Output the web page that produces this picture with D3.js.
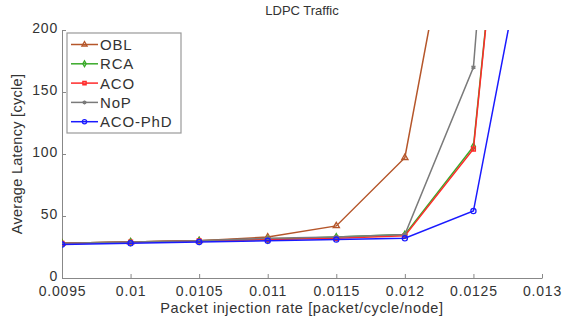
<!DOCTYPE html>
<html>
<head>
<meta charset="utf-8">
<script src="https://d3js.org/d3.v7.min.js"></script>
<style>
  body { margin: 0; background: #fff; }
  text { font-family: "Liberation Sans", Arial, sans-serif; fill: #333; }
</style>
</head>
<body>
<div id="chart"></div>
<script>
// datos
const rates = [0.0095, 0.01, 0.0105, 0.011, 0.0115, 0.012, 0.0125, 0.013];
const obl    = [28, 29, 30, 33, 42, 97, 393, 800];
const rca    = [28, 29, 30, 31, 33, 35, 106, 650];
const aco    = [28, 29, 30, 31, 32, 34, 104, 650];
const nop    = [28, 29, 30, 32, 33, 35, 170, 860];
const acoPhd = [27, 28, 29, 30, 31, 32, 54, 342];
const xTicks = [0.0095, 0.01, 0.0105, 0.011, 0.0115, 0.012, 0.0125, 0.013];
const yTicks = [0, 50, 100, 150, 200];

const series = [
  { name: "OBL", values: obl, color: "#b5562a", marker: "tri" },
  { name: "RCA", values: rca, color: "#3aaa2a", marker: "diamond" },
  { name: "ACO", values: aco, color: "#ff2a2a", marker: "square" },
  { name: "NoP", values: nop, color: "#7a7a7a", marker: "star" },
  { name: "ACO-PhD", values: acoPhd, color: "#1a1aff", marker: "circle" }
];

const W = 565, H = 320;
const m = { left: 62, right: 23, top: 30, bottom: 42 };

const svg = d3.select("#chart").append("svg")
  .attr("width", W).attr("height", H);

const x = d3.scaleLinear().domain([0.0095, 0.013]).range([m.left, W - m.right]);
const y = d3.scaleLinear().domain([0, 200]).range([H - m.bottom, m.top]);

svg.append("defs").append("clipPath").attr("id", "clip")
  .append("rect")
  .attr("x", m.left).attr("y", m.top)
  .attr("width", W - m.left - m.right).attr("height", H - m.top - m.bottom);

// ejes
const xAxis = svg.append("g")
  .attr("transform", `translate(0,${H - m.bottom})`)
  .call(d3.axisBottom(x).tickValues(xTicks).tickSizeInner(-4).tickSizeOuter(0)
    .tickPadding(8).tickFormat(d => String(+d.toFixed(4))));
const yAxis = svg.append("g")
  .attr("transform", `translate(${m.left},0)`)
  .call(d3.axisLeft(y).tickValues(yTicks).tickSizeInner(-4).tickSizeOuter(0)
    .tickPadding(4));

[xAxis, yAxis].forEach(g => {
  g.select(".domain").attr("stroke", "#888");
  g.selectAll(".tick line").attr("stroke", "#888");
  g.selectAll(".tick text").attr("font-size", 14).attr("fill", "#333")
    .style("letter-spacing", "0.8px");
});
yAxis.selectAll(".tick text").attr("dy", "0.2em");

function markerPath(type, s) {
  if (type === "tri") return d3.symbol(d3.symbolTriangle, s * 1.3)();
  if (type === "diamond") return d3.symbol(d3.symbolDiamond, s * 1.1)();
  if (type === "square") return d3.symbol(d3.symbolSquare, s * 1.2)();
  if (type === "circle") return d3.symbol(d3.symbolCircle, s * 1.6)();
  return d3.symbol(d3.symbolAsterisk, s * 1.2)();
}

const line = d3.line().x((d, i) => x(rates[i])).y(d => y(d));

const plot = svg.append("g").attr("clip-path", "url(#clip)");

series.forEach(s => {
  plot.append("path")
    .datum(s.values)
    .attr("fill", "none")
    .attr("stroke", s.color)
    .attr("stroke-width", 1.5)
    .attr("d", line);
  plot.selectAll(null)
    .data(s.values)
    .enter().append("path")
    .attr("transform", (d, i) => `translate(${x(rates[i])},${y(d)})`)
    .attr("d", markerPath(s.marker, 13))
    .attr("fill", "none")
    .attr("stroke", s.color)
    .attr("stroke-width", 1.3);
});

// leyenda
const leg = svg.append("g");
leg.append("rect")
  .attr("x", 67).attr("y", 33).attr("width", 114).attr("height", 100)
  .attr("fill", "#fff").attr("stroke", "#999").attr("stroke-width", 1.2);
series.forEach((s, i) => {
  const ly = 44.5 + i * 19.3;
  leg.append("line")
    .attr("x1", 71).attr("x2", 98).attr("y1", ly).attr("y2", ly)
    .attr("stroke", s.color).attr("stroke-width", 1.5);
  leg.append("path")
    .attr("transform", `translate(84.5,${ly})`)
    .attr("d", markerPath(s.marker, 9))
    .attr("fill", "none").attr("stroke", s.color).attr("stroke-width", 1.3);
  leg.append("text")
    .attr("x", 100).attr("y", ly + 5.5)
    .attr("font-size", 15)
    .style("letter-spacing", "0.8px")
    .attr("fill", "#222")
    .text(s.name);
});

// titulos
svg.append("text")
  .attr("x", 302).attr("y", 15)
  .attr("text-anchor", "middle").attr("font-size", 13)
  .text("LDPC Traffic");
svg.append("text")
  .attr("x", 302).attr("y", 313)
  .attr("text-anchor", "middle").attr("font-size", 14.5)
  .style("letter-spacing", "0.6px")
  .text("Packet injection rate [packet/cycle/node]");
svg.append("text")
  .attr("transform", "translate(22,154) rotate(-90)")
  .attr("text-anchor", "middle").attr("font-size", 14.5)
  .style("letter-spacing", "0.3px")
  .text("Average Latency [cycle]");
</script>
</body>
</html>
